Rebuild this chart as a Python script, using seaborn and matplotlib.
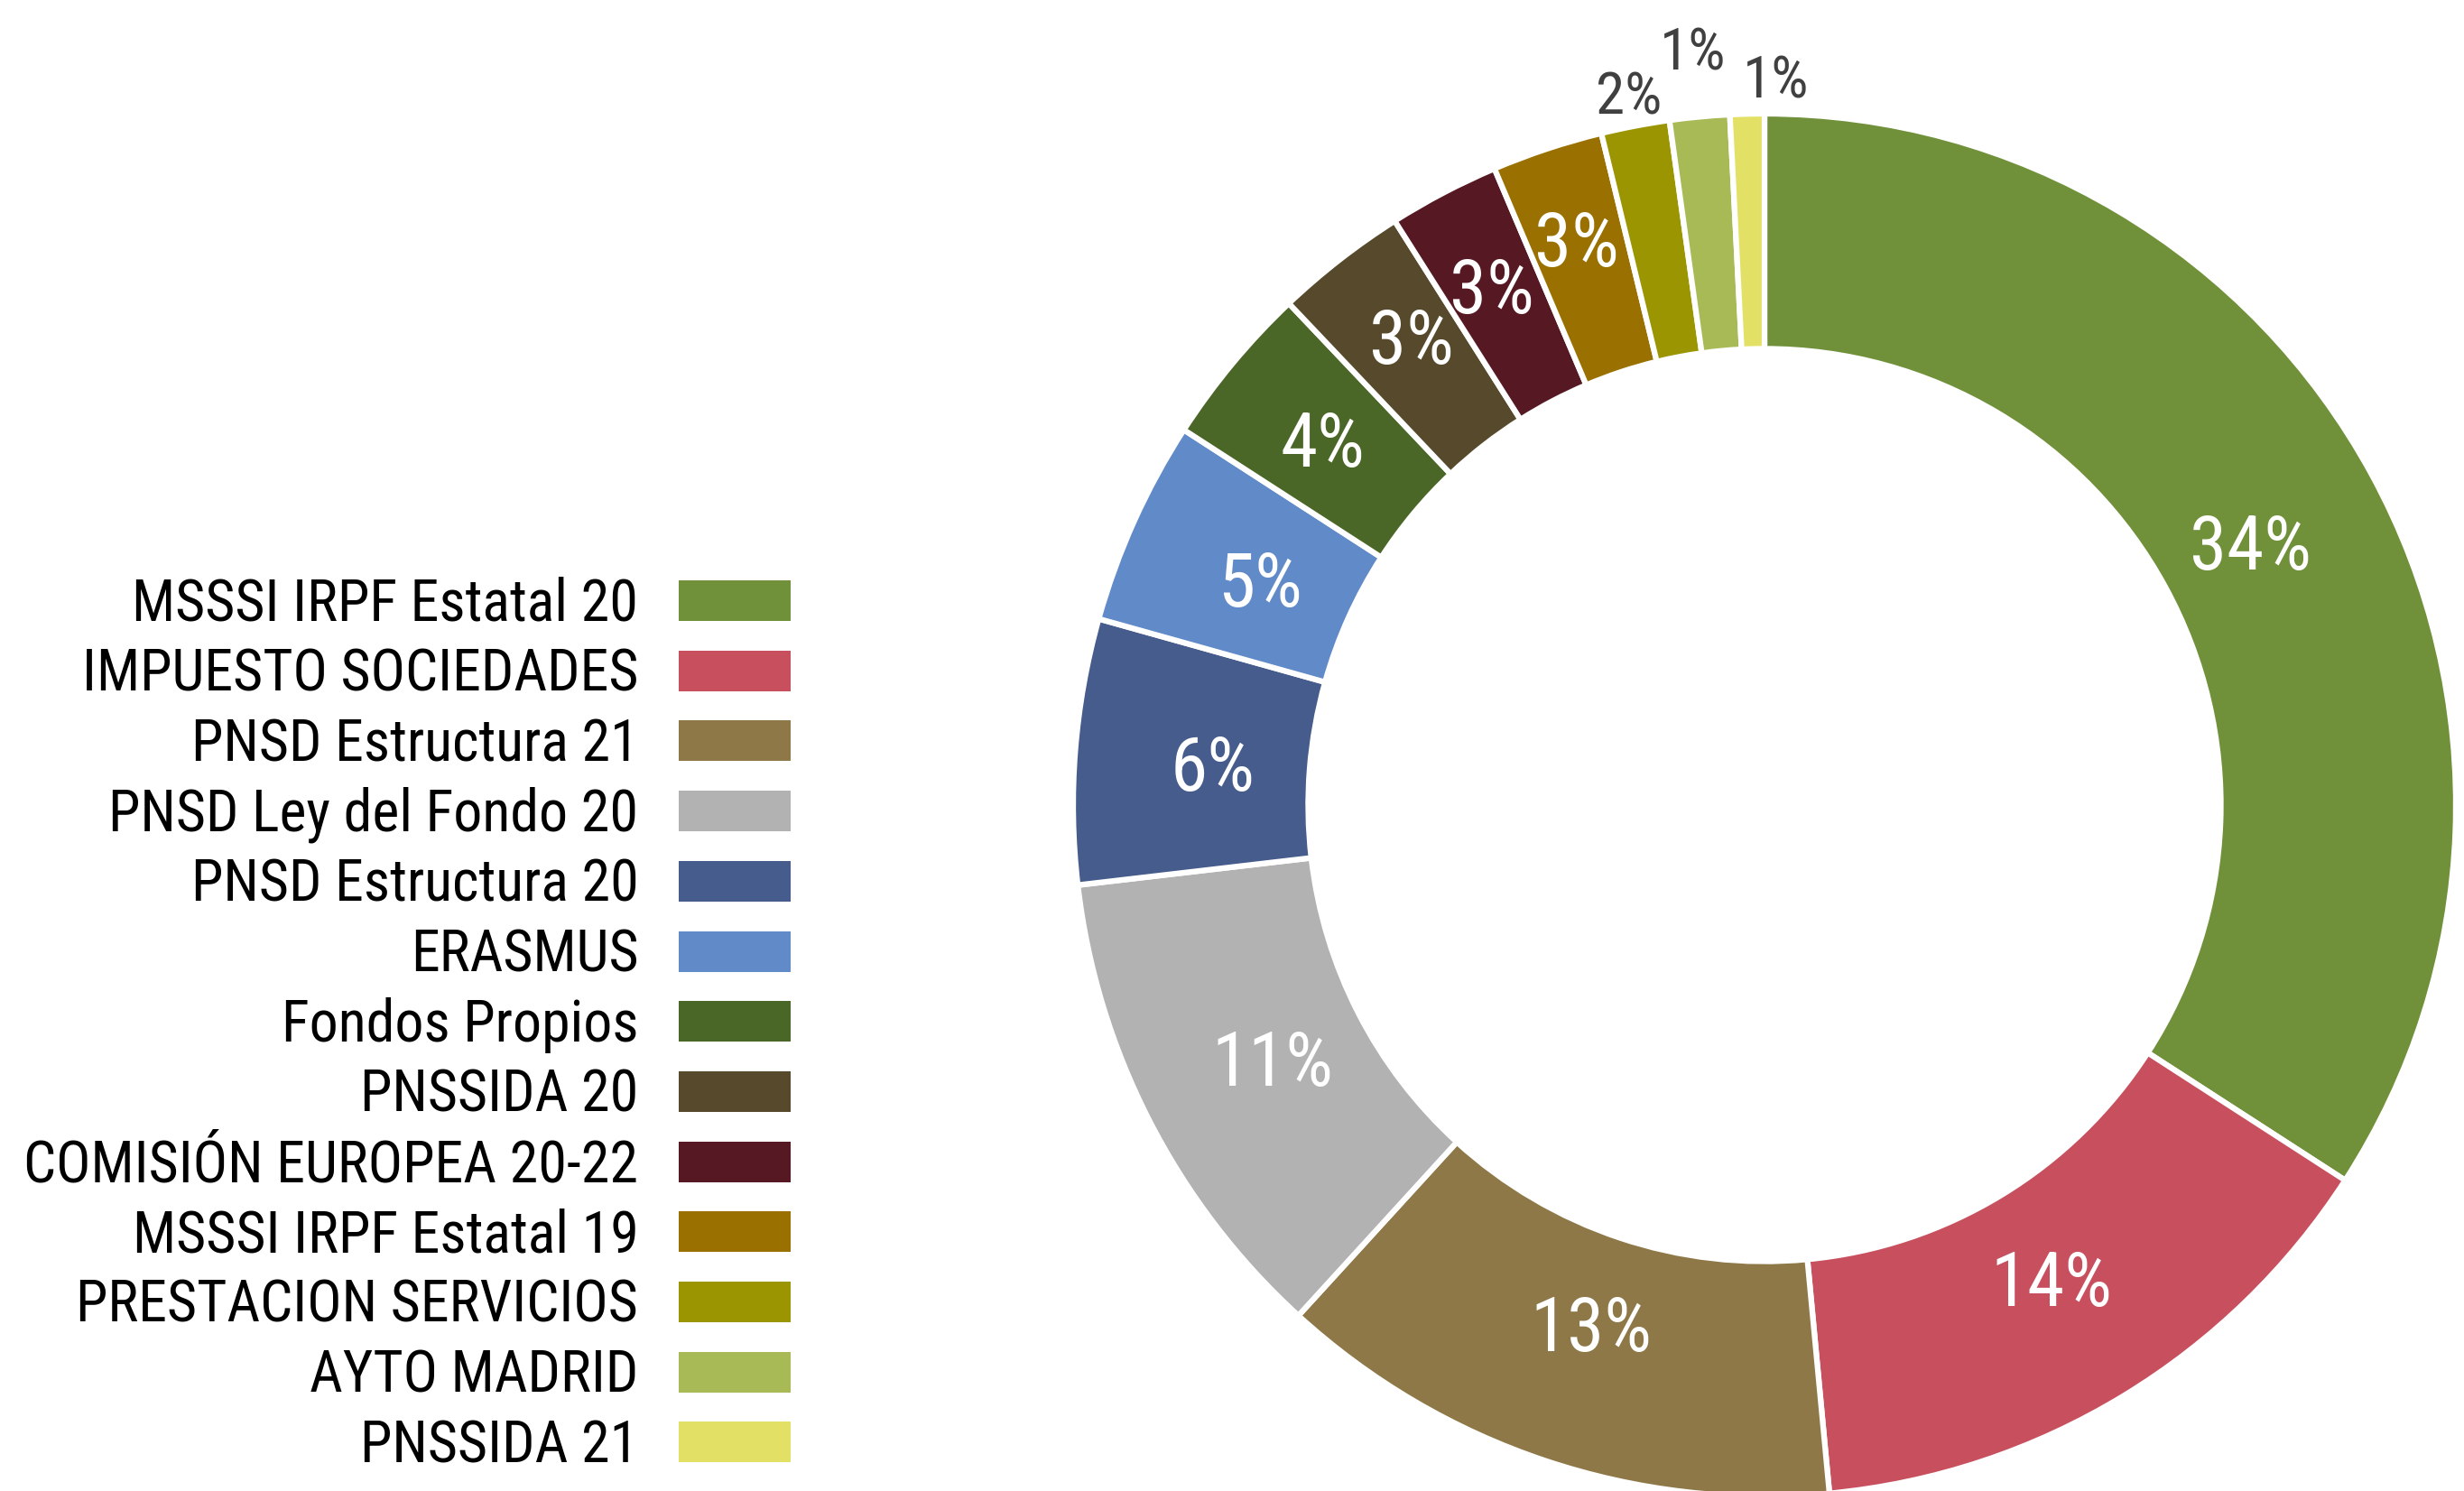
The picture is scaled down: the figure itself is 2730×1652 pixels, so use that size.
import os
import numpy as np
import matplotlib
matplotlib.use("Agg")
import matplotlib.pyplot as plt
from matplotlib import font_manager
from matplotlib.font_manager import FontProperties
from matplotlib.patches import Patch
import seaborn as sns

categories = ["MSSSI IRPF Estatal 20", "IMPUESTO SOCIEDADES", "PNSD Estructura 21",
              "PNSD Ley del Fondo 20", "PNSD Estructura 20", "ERASMUS", "Fondos Propios",
              "PNSSIDA 20", "COMISIÓN EUROPEA 20-22", "MSSSI IRPF Estatal 19",
              "PRESTACION SERVICIOS", "AYTO MADRID", "PNSSIDA 21"]
values = [34.2, 14.4, 13.3, 11.4, 6.2, 4.8, 3.8, 3.1, 2.6, 2.6, 1.6, 1.4, 0.8]
colors = ["#70913A", "#C8505E", "#8E7847", "#B2B2B2", "#465C8C", "#618AC9", "#4B6727",
          "#574A2C", "#561822", "#9A7100", "#9A9500", "#A7BA55", "#E3E066"]

sns.set_theme(style="white")
plt.rcParams["font.family"] = ["Roboto", "DejaVu Sans"]

# find a condensed sans (Roboto Condensed preferred)
chosen = None
for f in font_manager.fontManager.ttflist:
    b = os.path.basename(f.fname).lower().replace("-", "").replace("_", "")
    if b.startswith("robotocondensed") and "italic" not in b and "bold" not in b \
            and "light" not in b and "thin" not in b and "black" not in b \
            and "medium" not in b and "semi" not in b and "extra" not in b:
        chosen = f.fname
        break


def fp(size):
    if chosen:
        return FontProperties(fname=chosen, size=size)
    return FontProperties(family="Roboto", size=size * 0.9)


W, H = 2730, 1652
fig = plt.figure(figsize=(W / 100, H / 100), dpi=100)
cx, cy, R = 1955, 892, 766
ax = fig.add_axes([(cx - R) / W, (H - cy - R) / H, 2 * R / W, 2 * R / H])

palette = sns.color_palette(colors)
vals = np.array(values)
pct = vals / vals.sum() * 100
wedges, _ = ax.pie(vals, colors=palette, startangle=90, counterclock=False,
                   radius=1.0, wedgeprops=dict(width=0.34, edgecolor="white", linewidth=4.5))
ax.set_xlim(-1, 1)
ax.set_ylim(-1, 1)
ax.set_axis_off()

label_r = [0.80, 0.80, 0.79, 0.80, 0.80, 0.80, 0.83, 0.85, 0.85, 0.865, 1.05, 1.10, 1.055]
nudge = [0, 0, 0, 0, 0, 0, 0, -1.0, 0, 0, 0, 0, -2.3]
outside = [r > 1 for r in label_r]
for w, p, r, o, dn in zip(wedges, pct, label_r, outside, nudge):
    ang = np.deg2rad((w.theta1 + w.theta2) / 2 + dn)
    x, y = r * np.cos(ang), r * np.sin(ang)
    ax.text(x, y, f"{p:.0f}%", ha="center", va="center_baseline",
            color="#404040" if o else "white", fontproperties=fp(47 if o else 60), clip_on=False)

handles = [Patch(facecolor=c, edgecolor="none") for c in palette]
leg = fig.legend(handles, categories, loc="center right", bbox_to_anchor=(876 / W, 1 - 1136 / H),
                 markerfirst=False, frameon=False, prop=fp(46), handlelength=1.94,
                 handleheight=0.71, labelspacing=0.245, handletextpad=0.7, borderaxespad=0,
                 borderpad=0)
for t in leg.get_texts():
    t.set_ha("right")
    t.set_color("black")

fig.savefig("out.png", dpi=100, facecolor="white")
